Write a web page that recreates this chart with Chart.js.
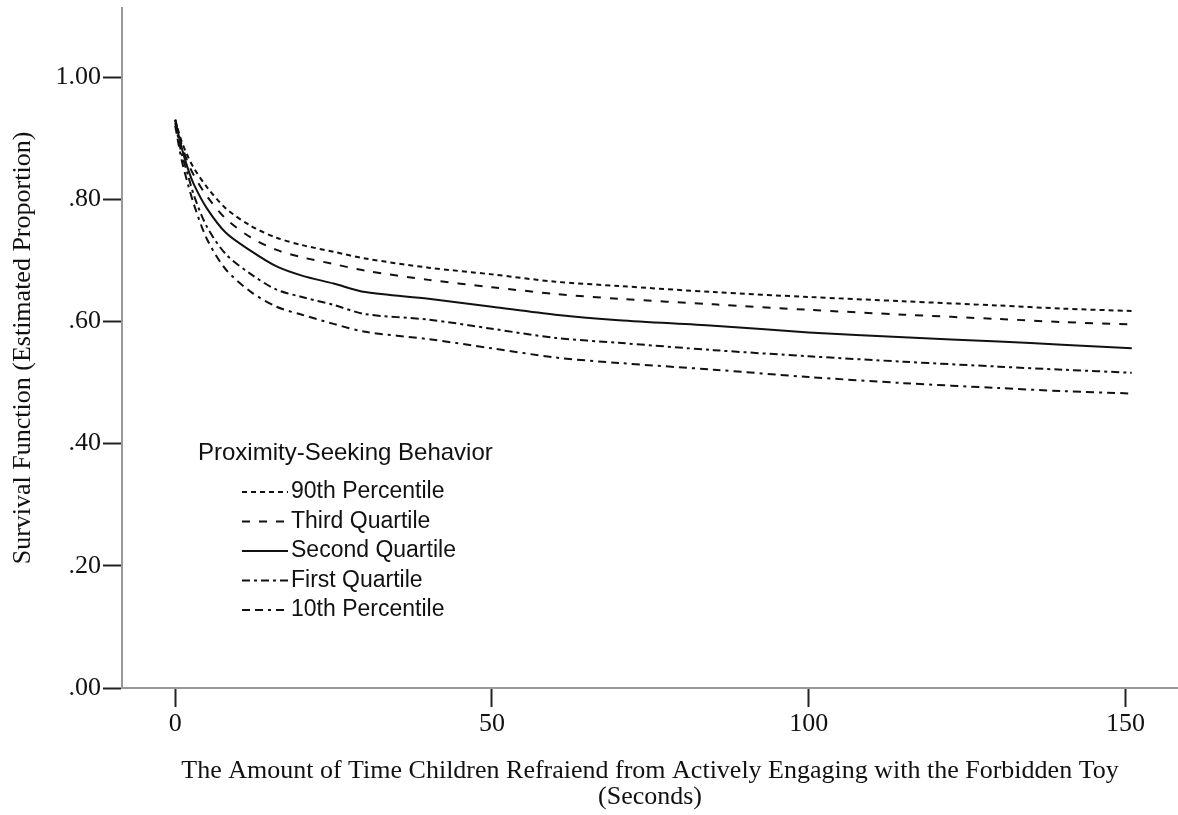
<!DOCTYPE html>
<html>
<head>
<meta charset="utf-8">
<script src="https://cdn.jsdelivr.net/npm/chart.js@4.4.0/dist/chart.umd.min.js"></script>
<style>
html, body { margin: 0; padding: 0; background: #fff; }
#wrap { width: 1178px; height: 815px; position: relative; }
</style>
</head>
<body>
<div id="wrap"><canvas id="myChart"></canvas></div>
<script>
// time in seconds
const seconds = [0, 1, 2, 3, 5, 8, 12, 16, 20, 25, 30, 40, 50, 60, 70, 85, 100, 115, 130, 140, 151];

// estimated survival proportion, per group
const pct90 = [0.93, 0.895, 0.87, 0.85, 0.82, 0.785, 0.756, 0.737, 0.725, 0.714, 0.703, 0.688, 0.677, 0.665, 0.658, 0.648, 0.640, 0.633, 0.626, 0.621, 0.617];
const quart3 = [0.93, 0.89, 0.86, 0.838, 0.805, 0.768, 0.737, 0.717, 0.705, 0.694, 0.683, 0.668, 0.656, 0.645, 0.637, 0.628, 0.619, 0.611, 0.604, 0.599, 0.595];
const quart2 = [0.93, 0.885, 0.85, 0.823, 0.785, 0.745, 0.715, 0.69, 0.675, 0.662, 0.648, 0.637, 0.624, 0.611, 0.602, 0.593, 0.582, 0.574, 0.567, 0.562, 0.556];
const quart1 = [0.925, 0.875, 0.84, 0.805, 0.755, 0.71, 0.677, 0.652, 0.64, 0.627, 0.612, 0.603, 0.588, 0.573, 0.565, 0.553, 0.543, 0.534, 0.526, 0.521, 0.516];
const pct10 = [0.92, 0.865, 0.825, 0.79, 0.735, 0.685, 0.648, 0.624, 0.611, 0.596, 0.583, 0.571, 0.556, 0.541, 0.532, 0.521, 0.509, 0.499, 0.491, 0.486, 0.482];

const groupNames = ['90th Percentile', 'Third Quartile', 'Second Quartile', 'First Quartile', '10th Percentile'];
const xTicks = [0, 50, 100, 150];
const yTicks = [0, 0.2, 0.4, 0.6, 0.8, 1.0];
const legendTitle = 'Proximity-Seeking Behavior';

const dashes = [[5, 4], [8, 9], [], [8, 4, 3, 4], [8, 5, 8, 5, 3, 5]];
const serif = '"Liberation Serif", "Times New Roman", serif';

function toPoints(arr) {
    return seconds.map((t, i) => ({ x: t, y: arr[i] }));
}

const insideLegend = {
    id: 'insideLegend',
    afterDatasetsDraw(chart) {
        const ctx = chart.ctx;
        ctx.save();
        ctx.fillStyle = '#111';
        ctx.textBaseline = 'middle';
        ctx.font = '24px "Liberation Sans", Arial, sans-serif';
        ctx.fillText(legendTitle, 198, 453);
        ctx.font = '23px "Liberation Sans", Arial, sans-serif';
        chart.data.datasets.forEach((ds, i) => {
            const y = 492 + i * 29.5;
            ctx.strokeStyle = '#111';
            ctx.lineWidth = 2;
            ctx.setLineDash(ds.borderDash);
            ctx.beginPath();
            ctx.moveTo(242, y);
            ctx.lineTo(288, y);
            ctx.stroke();
            ctx.setLineDash([]);
            ctx.fillText(ds.label, 291, y);
        });
        ctx.restore();
    }
};

const ctx = document.getElementById('myChart');

new Chart(ctx, {
    type: 'line',
    data: {
        datasets: [pct90, quart3, quart2, quart1, pct10].map((arr, i) => ({
            label: groupNames[i],
            data: toPoints(arr),
            borderColor: '#111',
            borderWidth: 2,
            borderDash: dashes[i],
            pointRadius: 0,
            tension: 0.3,
            fill: false
        }))
    },
    options: {
        responsive: true,
        maintainAspectRatio: false,
        animation: false,
        layout: { padding: { top: 8, left: 0, right: 0, bottom: 0 } },
        plugins: {
            legend: { display: false },
            tooltip: { enabled: false }
        },
        scales: {
            x: {
                type: 'linear',
                min: -8.4,
                max: 158.3,
                afterFit: (scale) => {
                    scale.height = 127;
                    scale.paddingLeft = 0;
                    scale.paddingRight = 0;
                },
                afterBuildTicks: (scale) => { scale.ticks = xTicks.map(v => ({ value: v })); },
                grid: {
                    drawOnChartArea: false,
                    drawTicks: true,
                    tickLength: 19,
                    tickWidth: 2,
                    tickColor: '#222'
                },
                border: { display: true, color: '#999', width: 2 },
                ticks: {
                    color: '#111',
                    padding: 2,
                    maxRotation: 0,
                    font: { family: serif, size: 26 }
                },
                title: {
                    display: true,
                    text: ['The Amount of Time Children Refraiend from Actively Engaging with the Forbidden Toy', '(Seconds)'],
                    color: '#111',
                    padding: { top: 0, bottom: 5 },
                    font: { family: serif, size: 26, lineHeight: '26px' }
                }
            },
            y: {
                min: 0,
                max: 1.113,
                afterFit: (scale) => {
                    scale.width = 122;
                    scale.paddingTop = 0;
                    scale.paddingBottom = 0;
                },
                afterBuildTicks: (scale) => { scale.ticks = yTicks.map(v => ({ value: v })); },
                grid: {
                    drawOnChartArea: false,
                    drawTicks: true,
                    tickLength: 19,
                    tickWidth: 2,
                    tickColor: '#222'
                },
                border: { display: true, color: '#999', width: 2 },
                ticks: {
                    color: '#111',
                    padding: 2,
                    callback: (v) => v.toFixed(2).replace(/^0/, ''),
                    font: { family: serif, size: 26 }
                },
                title: {
                    display: true,
                    text: 'Survival Function (Estimated Proportion)',
                    color: '#111',
                    padding: { top: 10, bottom: 0 },
                    font: { family: serif, size: 26, lineHeight: '26px' }
                }
            }
        }
    },
    plugins: [insideLegend]
});
</script>
</body>
</html>
